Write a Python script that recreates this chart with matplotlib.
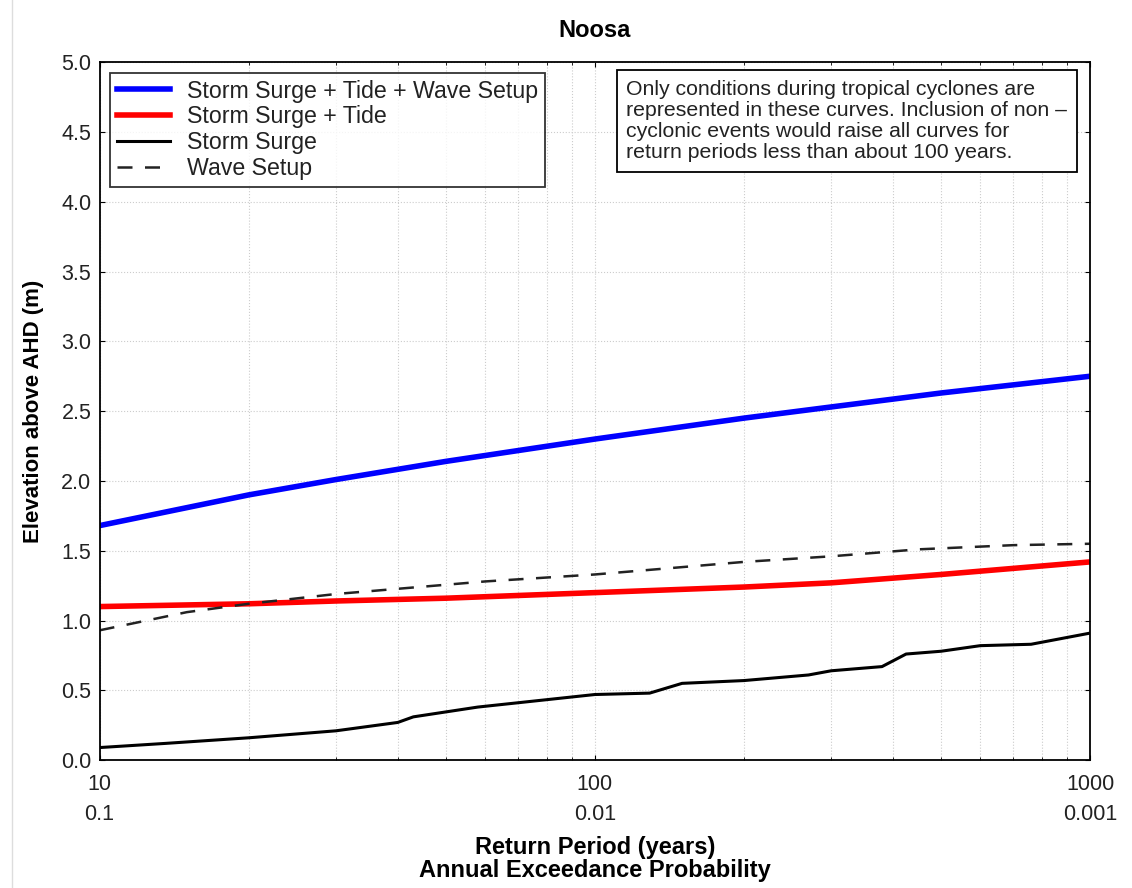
import numpy as np
import matplotlib
matplotlib.use('Agg')
import matplotlib.pyplot as plt
from matplotlib.lines import Line2D
from matplotlib.ticker import FixedLocator, FuncFormatter, NullFormatter

plt.rcParams['font.family'] = ['Liberation Sans', 'DejaVu Sans']

# Data
# Storm Surge + Tide + Wave Setup
total_x = [10, 20, 30, 50, 100, 200, 300, 500, 1000]
total_y = [1.68, 1.90, 2.01, 2.14, 2.30, 2.45, 2.53, 2.63, 2.75]

# Storm Surge + Tide
tide_x = [10, 20, 30, 50, 100, 200, 300, 500, 1000]
tide_y = [1.10, 1.12, 1.14, 1.16, 1.20, 1.24, 1.27, 1.33, 1.42]

# Storm Surge
surge_x = [10, 13.6, 20, 30, 40, 43, 58, 100, 129, 150, 200, 270, 300, 380,
           425, 500, 600, 760, 1000]
surge_y = [0.09, 0.12, 0.16, 0.21, 0.27, 0.31, 0.38, 0.47, 0.48, 0.55, 0.57,
           0.61, 0.64, 0.67, 0.76, 0.78, 0.82, 0.83, 0.91]

# Wave Setup
wave_x = [10, 15, 20, 30, 60, 100, 200, 300, 450, 700, 1000]
wave_y = [0.93, 1.06, 1.12, 1.19, 1.28, 1.33, 1.42, 1.46, 1.51, 1.54, 1.55]

xticks = [10, 100, 1000]
xtick_labels = ['10\n0.1', '100\n0.01', '1000\n0.001']

note = ('Only conditions during tropical cyclones are\n'
        'represented in these curves. Inclusion of non \u2013\n'
        'cyclonic events would raise all curves for\n'
        'return periods less than about 100 years.')

fig = plt.figure(figsize=(11.32, 8.88), dpi=100)
ax = fig.add_axes([0.088, 0.144, 0.875, 0.786])

# faint page edge on the left of the scan
fig.add_artist(Line2D([12 / 1132, 12 / 1132], [0, 1], color='#dddddd', lw=1))

ax.plot(total_x, total_y, color='blue', lw=4, label='Storm Surge + Tide + Wave Setup')
ax.plot(tide_x, tide_y, color='red', lw=4, label='Storm Surge + Tide')
ax.plot(surge_x, surge_y, color='black', lw=2.2, label='Storm Surge')
ax.plot(wave_x, wave_y, color='#222222', lw=1.8, ls=(0, (6, 5)), label='Wave Setup')

ax.set_xscale('log')
ax.set_xlim(10, 1000)
ax.set_ylim(0, 5)
ax.xaxis.set_major_locator(FixedLocator(xticks))
ax.set_xticklabels(xtick_labels, linespacing=1.55)
ax.xaxis.set_minor_formatter(NullFormatter())
ax.set_yticks(np.arange(0, 5.01, 0.5))
ax.yaxis.set_major_formatter(FuncFormatter(lambda v, p: '%.1f' % v))
ax.tick_params(which='both', direction='in', top=True, right=True,
               labelsize=15.5, labelcolor='#222222')
ax.tick_params(axis='x', pad=10)
ax.tick_params(axis='y', pad=6)
ax.grid(True, which='both', axis='x', color='#cccccc', ls=':', lw=0.8)
ax.grid(True, which='major', axis='y', color='#cccccc', ls=':', lw=0.8)
for s in ax.spines.values():
    s.set_linewidth(1.3)

ax.set_title('Noosa', fontsize=17, fontweight='bold', pad=18)
ax.set_xlabel('Return Period (years)\nAnnual Exceedance Probability',
              fontsize=17, fontweight='bold', labelpad=8, linespacing=1.0)
ax.set_ylabel('Elevation above AHD (m)', fontsize=16, fontweight='bold', labelpad=12)

leg = ax.legend(loc='upper left', fontsize=16.7, frameon=True, fancybox=False,
                edgecolor='black', handlelength=2.3, handletextpad=0.7,
                borderaxespad=0.45, labelspacing=0.12, borderpad=0.3)
leg.get_frame().set_linewidth(1.3)
for t in leg.get_texts():
    t.set_color('#222222')

ax.text(0.977, 0.975, note, transform=ax.transAxes, ha='right', va='top',
        multialignment='left', fontsize=15.3, linespacing=1.15, color='#222222',
        bbox=dict(boxstyle='square,pad=0.45', fc='white', ec='black', lw=1.3))

fig.savefig('out.png', dpi=100)
